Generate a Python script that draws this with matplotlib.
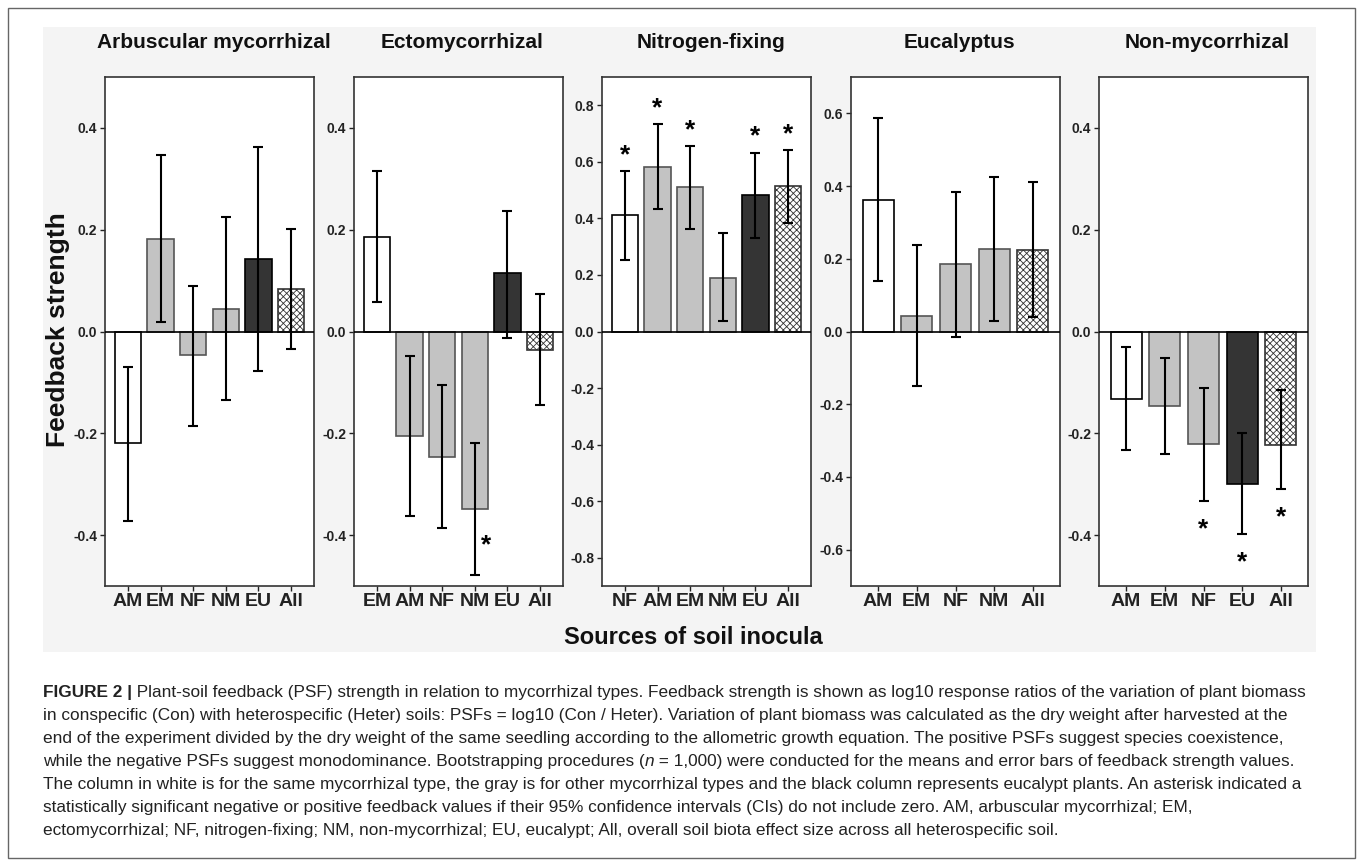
import matplotlib
matplotlib.use('Agg')
import matplotlib.pyplot as plt
from matplotlib.patches import Rectangle
from matplotlib import font_manager

plt.rcParams['font.family'] = ['Liberation Sans', 'DejaVu Sans']
plt.rcParams['hatch.linewidth'] = 0.6

# ---- data ----
titles = ['Arbuscular mycorrhizal', 'Ectomycorrhizal', 'Nitrogen-fixing', 'Eucalyptus', 'Non-mycorrhizal']
own_type = ['AM', 'EM', 'NF', 'AM', 'AM']  # soil drawn as the white column

am_cats = ['AM', 'EM', 'NF', 'NM', 'EU', 'All']
am_mean = [-0.220, 0.182, -0.047, 0.045, 0.143, 0.084]
am_lo = [-0.372, 0.018, -0.186, -0.135, -0.078, -0.035]
am_hi = [-0.069, 0.347, 0.090, 0.225, 0.363, 0.202]
am_sig = [0, 0, 0, 0, 0, 0]

em_cats = ['EM', 'AM', 'NF', 'NM', 'EU', 'All']
em_mean = [0.186, -0.205, -0.246, -0.349, 0.114, -0.036]
em_lo = [0.057, -0.363, -0.386, -0.478, -0.012, -0.145]
em_hi = [0.315, -0.048, -0.106, -0.219, 0.236, 0.074]
em_sig = [0, 0, 0, 1, 0, 0]

nf_cats = ['NF', 'AM', 'EM', 'NM', 'EU', 'All']
nf_mean = [0.411, 0.583, 0.510, 0.190, 0.483, 0.515]
nf_lo = [0.252, 0.432, 0.364, 0.036, 0.331, 0.384]
nf_hi = [0.566, 0.734, 0.655, 0.347, 0.633, 0.643]
nf_sig = [1, 1, 1, 0, 1, 1]

eu_cats = ['AM', 'EM', 'NF', 'NM', 'All']
eu_mean = [0.361, 0.044, 0.185, 0.228, 0.225]
eu_lo = [0.139, -0.151, -0.015, 0.029, 0.040]
eu_hi = [0.586, 0.238, 0.383, 0.426, 0.410]
eu_sig = [0, 0, 0, 0, 0]

nm_cats = ['AM', 'EM', 'NF', 'EU', 'All']
nm_mean = [-0.132, -0.146, -0.222, -0.299, -0.223]
nm_lo = [-0.233, -0.241, -0.333, -0.398, -0.310]
nm_hi = [-0.030, -0.052, -0.111, -0.200, -0.114]
nm_sig = [0, 0, 1, 1, 1]

ylims = [0.5, 0.5, 0.9, 0.7, 0.5]
yticks = [[-0.4, -0.2, 0.0, 0.2, 0.4],
          [-0.4, -0.2, 0.0, 0.2, 0.4],
          [-0.8, -0.6, -0.4, -0.2, 0.0, 0.2, 0.4, 0.6, 0.8],
          [-0.6, -0.4, -0.2, 0.0, 0.2, 0.4, 0.6],
          [-0.4, -0.2, 0.0, 0.2, 0.4]]

panels = [(am_cats, am_mean, am_lo, am_hi, am_sig),
          (em_cats, em_mean, em_lo, em_hi, em_sig),
          (nf_cats, nf_mean, nf_lo, nf_hi, nf_sig),
          (eu_cats, eu_mean, eu_lo, eu_hi, eu_sig),
          (nm_cats, nm_mean, nm_lo, nm_hi, nm_sig)]

caption = [
    [('FIGURE 2 |', 'bold', 'normal'),
     (' Plant-soil feedback (PSF) strength in relation to mycorrhizal types. Feedback strength is shown as log10 response ratios of the variation of plant biomass', 'normal', 'normal')],
    [('in conspecific (Con) with heterospecific (Heter) soils: PSFs = log10 (Con / Heter). Variation of plant biomass was calculated as the dry weight after harvested at the', 'normal', 'normal')],
    [('end of the experiment divided by the dry weight of the same seedling according to the allometric growth equation. The positive PSFs suggest species coexistence,', 'normal', 'normal')],
    [('while the negative PSFs suggest monodominance. Bootstrapping procedures (', 'normal', 'normal'),
     ('n', 'normal', 'italic'),
     (' = 1,000) were conducted for the means and error bars of feedback strength values.', 'normal', 'normal')],
    [('The column in white is for the same mycorrhizal type, the gray is for other mycorrhizal types and the black column represents eucalypt plants. An asterisk indicated a', 'normal', 'normal')],
    [('statistically significant negative or positive feedback values if their 95% confidence intervals (CIs) do not include zero. AM, arbuscular mycorrhizal; EM,', 'normal', 'normal')],
    [('ectomycorrhizal; NF, nitrogen-fixing; NM, non-mycorrhizal; EU, eucalypt; All, overall soil biota effect size across all heterospecific soil.', 'normal', 'normal')],
]

# ---- layout ----
W, H = 1358, 866
fig = plt.figure(figsize=(W / 100, H / 100), dpi=100)
fig.patch.set_facecolor('white')

fig.patches.append(Rectangle((8 / W, 1 - 858 / H), 1347 / W, 850 / H, transform=fig.transFigure,
                             facecolor='none', edgecolor='#666666', lw=1.0, zorder=-2))
fig.patches.append(Rectangle((43 / W, 1 - 652 / H), (1316 - 43) / W, (652 - 27) / H, transform=fig.transFigure,
                             facecolor='#f4f4f4', edgecolor='none', zorder=-1))

lefts = [105, 354, 602, 851, 1099]
ax_w, ax_top, ax_bot = 209, 77, 586


def bar_style(cat, own):
    if cat == own:
        return dict(color='white', edgecolor='black')
    if cat == 'EU':
        return dict(color='#343434', edgecolor='black')
    if cat == 'All':
        return dict(color='white', edgecolor='#333333', hatch='xxxxx')
    return dict(color='#c3c3c3', edgecolor='#555555')


star_fs = 19
for k, (cats, mean, lo, hi, sig) in enumerate(panels):
    ax = fig.add_axes([lefts[k] / W, 1 - ax_bot / H, ax_w / W, (ax_bot - ax_top) / H])
    ax.set_facecolor('white')
    for i, c in enumerate(cats):
        ax.bar(i, mean[i], width=0.8, lw=1.2, zorder=2, **bar_style(c, own_type[k]))
        ax.errorbar(i, mean[i], yerr=[[mean[i] - lo[i]], [hi[i] - mean[i]]], fmt='none',
                    ecolor='black', elinewidth=1.5, capsize=3.4, capthick=1.5, zorder=3)
        if sig[i]:
            if k == 1:
                # beside the error bar, just under the bar end
                xy, dx, dy = (i, mean[i]), 11, -28
            elif mean[i] > 0:
                xy, dx, dy = (i, hi[i]), 0, 24
            else:
                xy, dx, dy = (i, lo[i]), 0, -20
            ax.annotate('*', xy=xy, xytext=(dx / 1.389, dy / 1.389 - 0.575 * star_fs),
                        textcoords='offset points', ha='center', va='baseline',
                        fontsize=star_fs, fontweight='bold', zorder=5)
    ax.axhline(0, color='black', lw=1.2, zorder=4)
    ax.set_xlim(-0.7, len(cats) - 0.3)
    ax.set_ylim(-ylims[k], ylims[k])
    ax.set_xticks(range(len(cats)))
    ax.set_xticklabels(cats, fontsize=14, fontweight='bold')
    ax.set_yticks(yticks[k])
    ax.set_yticklabels([f'{v:.1f}' for v in yticks[k]], fontsize=10, fontweight='bold')
    ax.tick_params(direction='out', length=3.6, width=1, pad=2, colors='#222222')
    ax.tick_params(axis='x', pad=1.5)
    for s in ax.spines.values():
        s.set_linewidth(1.2)
        s.set_color('#333333')
    fig.text((lefts[k] + ax_w / 2 + 4) / W, 1 - 42 / H, titles[k], ha='center', va='center',
             fontsize=15, fontweight='bold', color='#111111')

fig.text(58 / W, 1 - 330 / H, 'Feedback strength', rotation=90, ha='center', va='center',
         fontsize=19, fontweight='bold', color='#111111')
fig.text(693 / W, 1 - 638 / H, 'Sources of soil inocula', ha='center', va='center',
         fontsize=17, fontweight='bold', color='#111111')

# ---- caption ----
names = {f.name for f in font_manager.fontManager.ttflist}
cap_font = 'Liberation Sans Narrow' if 'Liberation Sans Narrow' in names else 'Liberation Sans'
renderer = fig.canvas.get_renderer()


def runs_width(runs, size):
    w = 0
    for s, weight, style in runs:
        t = fig.text(0, 0, s, fontsize=size, fontweight=weight, fontstyle=style, family=cap_font)
        w += t.get_window_extent(renderer).width
        t.remove()
    return w


cap_size = 10 * (1302 - 43) / runs_width(caption[0], 10)
line_y = [697, 720, 743, 766, 789, 812, 835]
for runs, y in zip(caption, line_y):
    x = 43
    for s, weight, style in runs:
        t = fig.text(x / W, 1 - y / H, s, fontsize=cap_size, fontweight=weight, fontstyle=style,
                     family=cap_font, color='#222222', ha='left', va='baseline')
        x += t.get_window_extent(renderer).width

fig.savefig('out.png', dpi=100)
